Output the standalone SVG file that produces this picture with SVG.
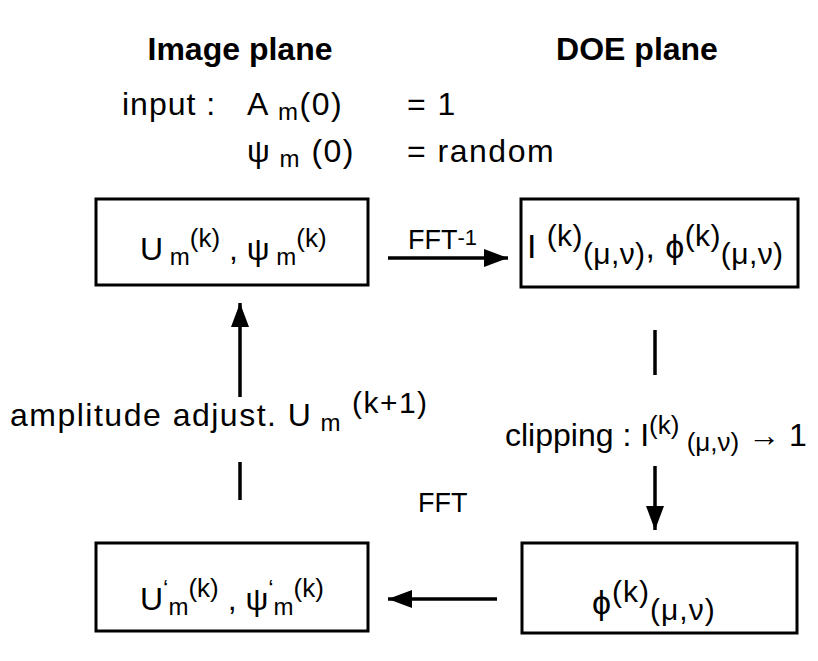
<svg xmlns="http://www.w3.org/2000/svg" width="818" height="661" viewBox="0 0 818 661">
<defs>
<style>
text{font-family:"Liberation Sans",Arial,"DejaVu Sans",sans-serif;fill:#000;font-size:32px;letter-spacing:1px}
.title{font-weight:bold;font-size:32px;letter-spacing:0}
.sub{font-size:24px}
.sup{font-size:26px}
.big{font-size:30px}
.lbl{font-size:27px;letter-spacing:0}
.tight{letter-spacing:0}
.box{fill:#fff;stroke:#000;stroke-width:3}
.conn{stroke:#000;stroke-width:3.5;fill:none}
</style>
<marker id="ah" markerUnits="userSpaceOnUse" markerWidth="26" markerHeight="20" refX="24" refY="9" orient="auto">
<path d="M0,0 L24,9 L0,18 z" fill="#000"/>
</marker>
</defs>
<rect width="818" height="661" fill="#fff"/>
<g id="headers">
<text class="title" x="240" y="60" text-anchor="middle">Image plane</text>
<text class="title" x="637" y="60" text-anchor="middle">DOE plane</text>
</g>
<g id="input">
<text x="122" y="115">input :</text>
<text x="247" y="115" style="letter-spacing:1.5px">A<tspan class="sub" dy="5"> m</tspan><tspan dy="-5">(0)</tspan></text>
<text x="407" y="115" style="letter-spacing:1.5px">= 1</text>
<text x="247" y="162" style="letter-spacing:1.5px">ψ<tspan class="sub" dy="5"> m</tspan><tspan dy="-5"> (0)</tspan></text>
<text x="407" y="162" style="letter-spacing:1.5px">= random</text>
</g>
<g id="connectors">
<line class="conn" x1="388" y1="258" x2="508" y2="258" marker-end="url(#ah)"/>
<line class="conn" x1="240" y1="397" x2="240" y2="303" marker-end="url(#ah)"/>
<line class="conn" x1="655" y1="330" x2="655" y2="375"/>
<line class="conn" x1="240" y1="462" x2="240" y2="500"/>
<line class="conn" x1="655" y1="466" x2="655" y2="530" marker-end="url(#ah)"/>
<line class="conn" x1="497" y1="599" x2="388" y2="599" marker-end="url(#ah)"/>
<text class="lbl" x="408" y="249">FFT<tspan style="font-size:22px" dy="-4">-1</tspan></text>
<text x="10" y="426" style="letter-spacing:1.5px">amplitude adjust. U<tspan class="sub" dy="5"> m</tspan><tspan class="big" dy="-18"> (k+1)</tspan></text>
<text x="505" y="446" class="tight">clipping : I<tspan class="sup" dy="-12">(k)</tspan><tspan class="sup" dy="17"> (μ,ν)</tspan><tspan dy="-5"> → 1</tspan></text>
<text class="lbl" x="418" y="512">FFT</text>
</g>
<g id="node-image-top">
<rect class="box" x="96" y="199" width="272" height="86"/>
<text x="140" y="260" class="tight">U<tspan class="sub" dy="5"> m</tspan><tspan class="sup" dy="-18">(k)</tspan><tspan dy="13"> , ψ</tspan><tspan class="sub" dy="5"> m</tspan><tspan class="sup" dy="-18">(k)</tspan></text>
</g>
<g id="node-doe-top">
<rect class="box" x="521" y="199" width="277" height="88"/>
<text x="527" y="258" style="font-size:34px;letter-spacing:0.4px">I <tspan class="big" dy="-12">(k)</tspan><tspan class="big" dy="18">(μ,ν)</tspan><tspan dy="-6">, ϕ</tspan><tspan class="big" dy="-12">(k)</tspan><tspan class="big" dy="18">(μ,ν)</tspan></text>
</g>
<g id="node-image-bottom">
<rect class="box" x="96" y="543" width="272" height="88"/>
<text x="140" y="610" class="tight">U<tspan class="sub" dy="-13">‘</tspan><tspan class="sub" dy="18">m</tspan><tspan class="sup" dy="-18">(k)</tspan><tspan dy="13"> , ψ</tspan><tspan class="sub" dy="-13">‘</tspan><tspan class="sub" dy="18">m</tspan><tspan class="sup" dy="-18">(k)</tspan></text>
</g>
<g id="node-doe-bottom">
<rect class="box" x="522" y="543" width="275" height="90"/>
<text x="592" y="614" style="font-size:34px;letter-spacing:1px">ϕ<tspan class="big" dy="-12">(k)</tspan><tspan class="big" dy="18">(μ,ν)</tspan></text>
</g>
</svg>
